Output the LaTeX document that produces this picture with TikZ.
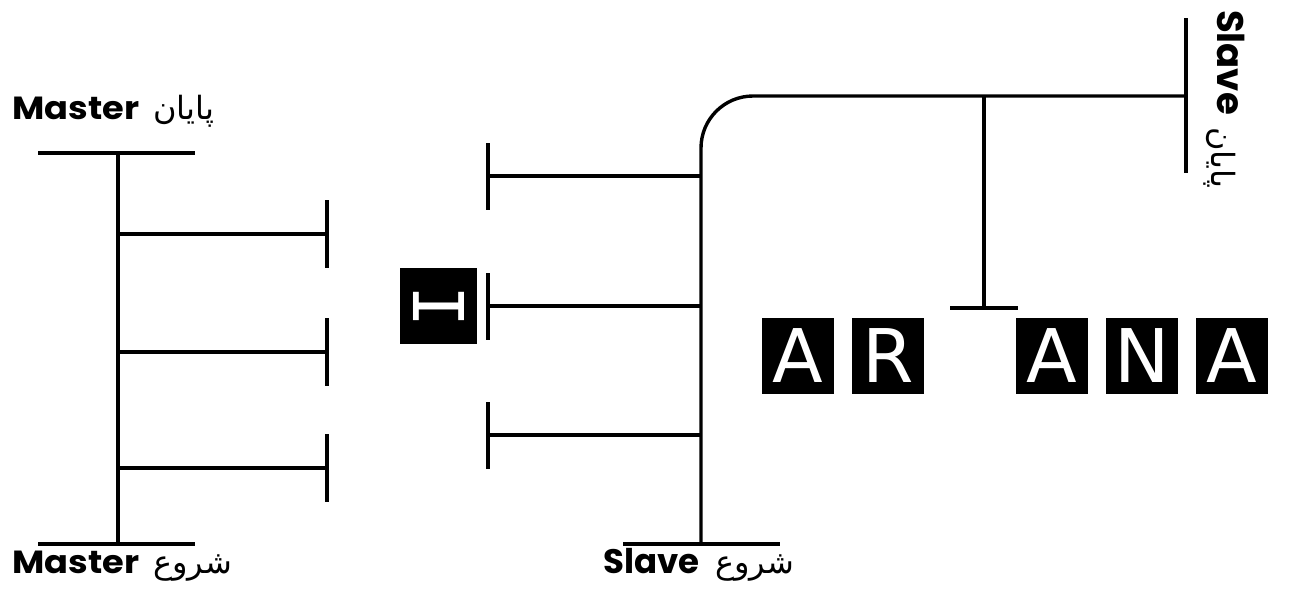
\documentclass[tikz,border=0pt]{standalone}
\usepackage{fontspec}
\TeXXeTstate=1
\newfontfamily\arabicfont[Script=Arabic]{DejaVu Sans}
\newfontfamily\labelfont{Poppins}
\newfontfamily\boxfont{DejaVu Sans}
\newfontfamily\monofont{DejaVu Sans Mono}
\begin{document}
\begin{tikzpicture}[x=1pt,y=-1pt,
  wire/.style={line width=3.4pt},
  capline/.style={line width=4.2pt},
  lbl/.style={inner sep=0pt, anchor=base west, xscale=1.1, font=\labelfont\bfseries\fontsize{32}{32}\selectfont},
  ar/.style={inner sep=0pt, anchor=base west, font=\arabicfont\fontsize{32}{32}\selectfont},
  letterbox/.style={fill=black, text=white, inner sep=0pt, minimum width=72pt, minimum height=76pt, font=\boxfont\fontsize{74}{74}\selectfont}]
\useasboundingbox (0,0) rectangle (1302,598);

% ---------- Master ----------
\coordinate (mtl) at (38,153);
\coordinate (mtr) at (195,153);
\coordinate (mt) at (118,153);
\coordinate (mbl) at (38,544);
\coordinate (mbr) at (195,544);
\coordinate (mb) at (118,544);
\draw[wire] (mtl) -- (mtr);
\draw[wire] (mbl) -- (mbr);
\draw[wire] (mt) -- (mb);
\foreach \y/\n in {234/1,352/2,468/3}{
  \coordinate (ms\n) at (118,\y);
  \coordinate (me\n) at (327,\y);
  \coordinate (mc\n a) at (327,\y-34);
  \coordinate (mc\n b) at (327,\y+34);
  \draw[wire] (ms\n) -- (me\n);
  \draw[capline] (mc\n a) -- (mc\n b);
}
\node[lbl] (mastertop) at (12,119) {Master};
\node[ar] (artop) at (153,119) {\beginR پایان\endR};
\node[lbl] (masterbot) at (12,573) {Master};
\node[ar] (arbot) at (153,573) {\beginR شروع\endR};

% ---------- Slave ----------
\coordinate (sbl) at (623,544);
\coordinate (sbr) at (780,544);
\coordinate (sb) at (701,544);
\coordinate (sc) at (701,96);
\coordinate (sr) at (1186,96);
\coordinate (srt) at (1186,18);
\coordinate (srb) at (1186,173);
\draw[wire] (sbl) -- (sbr);
\draw[wire, rounded corners=52pt] (sb) -- (sc) -- (sr);
\draw[wire] (srt) -- (srb);
\foreach \y/\n in {176/1,306/2,435/3}{
  \coordinate (ss\n) at (701,\y);
  \coordinate (se\n) at (488,\y);
  \coordinate (sc\n a) at (488,\y-33);
  \coordinate (sc\n b) at (488,\y+34);
  \draw[wire] (ss\n) -- (se\n);
  \draw[capline] (sc\n a) -- (sc\n b);
}
\coordinate (tt) at (984,96);
\coordinate (tb) at (984,308);
\coordinate (tl) at (950,308);
\coordinate (tr) at (1018,308);
\draw[wire] (tt) -- (tb);
\draw[capline] (tl) -- (tr);

\node[lbl, xscale=1/1.1, font=\labelfont\bfseries\fontsize{34}{34}\selectfont] (slavebot) at (603,573) {Slave};
\node[ar] (arslavebot) at (715,573) {\beginR شروع\endR};
\node[lbl, xscale=1/1.1, rotate=-90, font=\labelfont\bfseries\fontsize{37}{37}\selectfont] (slavetop) at (1217,10) {Slave};
\node[ar, rotate=-90] (arslavetop) at (1211,127) {\beginR پایان\endR};

% ---------- Letter boxes ----------
\node[letterbox, minimum width=77pt] (bI) at (438.5,306) {\rotatebox{90}{\monofont\fontsize{70}{70}\selectfont I}};
\node[letterbox] (b1) at (798,356) {A};
\node[letterbox] (b2) at (888,356) {R};
\node[letterbox] (b3) at (1051.5,356) {A};
\node[letterbox] (b4) at (1142,356) {N};
\node[letterbox] (b5) at (1231.5,356) {A};
\end{tikzpicture}
\end{document}
